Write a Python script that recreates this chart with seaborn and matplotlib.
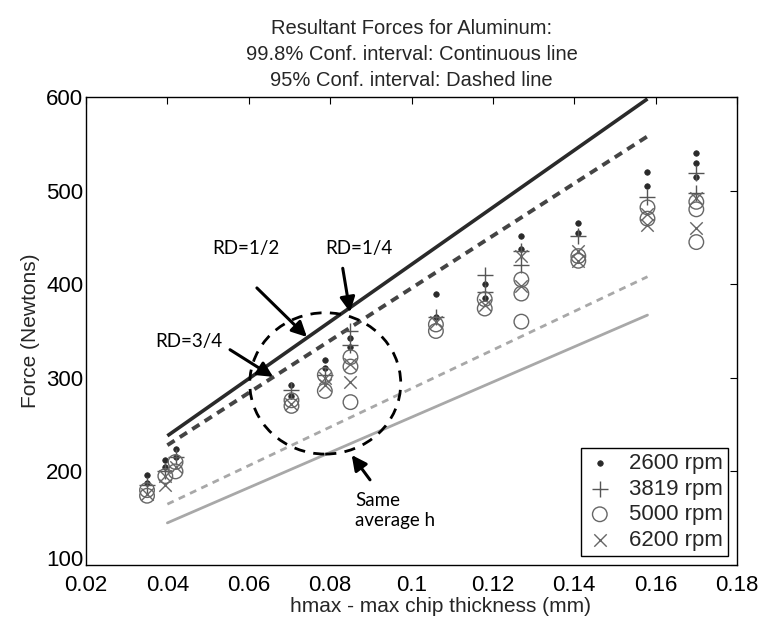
import matplotlib
matplotlib.use("Agg")
import matplotlib.pyplot as plt
import matplotlib.transforms as mtransforms
import seaborn as sns
import pandas as pd
from matplotlib.patches import Ellipse

# ---- data ----
x_2600 = [0.035, 0.035, 0.0395, 0.0395, 0.042, 0.042, 0.0705, 0.0705, 0.0787, 0.0787,
          0.085, 0.085, 0.106, 0.106, 0.118, 0.118, 0.127, 0.127, 0.141, 0.141,
          0.158, 0.158, 0.170, 0.170, 0.170]
y_2600 = [188, 196, 205, 212, 215, 224, 281, 292, 310, 319,
          333, 342, 365, 390, 385, 400, 438, 452, 455, 465,
          505, 520, 515, 530, 540]

x_3819 = [0.035, 0.0395, 0.042, 0.0705, 0.0787, 0.085, 0.085, 0.106, 0.118, 0.118,
          0.127, 0.127, 0.141, 0.158, 0.170, 0.170]
y_3819 = [185, 200, 215, 287, 303, 335, 350, 365, 392, 410,
          420, 435, 452, 493, 497, 519]

x_5000 = [0.035, 0.035, 0.0395, 0.042, 0.042, 0.0705, 0.0705, 0.0787, 0.0787, 0.085,
          0.085, 0.085, 0.106, 0.106, 0.118, 0.118, 0.127, 0.127, 0.127, 0.141,
          0.141, 0.158, 0.158, 0.170, 0.170, 0.170]
y_5000 = [174, 180, 195, 200, 210, 270, 276, 286, 303, 274,
          312, 322, 350, 357, 374, 384, 360, 390, 405, 425,
          430, 470, 482, 445, 480, 488]

x_6200 = [0.035, 0.0395, 0.0395, 0.042, 0.0705, 0.0787, 0.0787, 0.085, 0.085, 0.106,
          0.118, 0.127, 0.127, 0.141, 0.141, 0.158, 0.158, 0.170, 0.170]
y_6200 = [176, 185, 195, 205, 272, 292, 300, 296, 315, 360,
          378, 398, 430, 425, 435, 463, 475, 460, 492]

fit_x = [0.04, 0.158]
upper_998 = [238, 598]
upper_95 = [228, 558]
lower_95 = [165, 408]
lower_998 = [145, 367]

x_ticks = [0.02, 0.04, 0.06, 0.08, 0.1, 0.12, 0.14, 0.16, 0.18]
x_tick_labels = ["0.02", "0.04", "0.06", "0.08", "0.1", "0.12", "0.14", "0.16", "0.18"]
y_ticks = [100, 200, 300, 400, 500, 600]

# ---- style ----
sns.set_style("white")
plt.rcParams["font.family"] = ["Liberation Sans", "DejaVu Sans"]

fig = plt.figure(figsize=(7.62, 6.22), dpi=100)
ax = fig.add_axes([86 / 762, 1 - 565 / 622, (737 - 86) / 762, (565 - 97) / 622])

dark = "#2a2a2a"
light = "#a8a8a8"

# fitted confidence lines
sns.lineplot(x=fit_x, y=upper_998, ax=ax, color=dark, lw=2.6, solid_capstyle="butt")
sns.lineplot(x=fit_x, y=upper_95, ax=ax, color="#444444", lw=2.8,
             linestyle=(0, (2.2, 1.6)))
sns.lineplot(x=fit_x, y=lower_95, ax=ax, color=light, lw=2.0, linestyle=(0, (2.5, 2.0)))
sns.lineplot(x=fit_x, y=lower_998, ax=ax, color=light, lw=2.0)

# measured points
sns.scatterplot(x=x_2600, y=y_2600, ax=ax, marker="o", s=16, color=dark,
                edgecolor=dark, linewidth=0.5, label="2600 rpm", zorder=5)
sns.scatterplot(x=x_3819, y=y_3819, ax=ax, marker="+", s=130, color="#555555",
                linewidth=1.0, label="3819 rpm", zorder=5)
sns.scatterplot(x=x_5000, y=y_5000, ax=ax, marker="o", s=110, facecolor="none",
                edgecolor="#666666", linewidth=1.0, label="5000 rpm", zorder=5)
sns.scatterplot(x=x_6200, y=y_6200, ax=ax, marker="x", s=80, color="#666666",
                linewidth=1.0, label="6200 rpm", zorder=5)

# annotation ellipse and arrows
ax.add_patch(Ellipse((0.0788, 294), 0.0371, 151, fill=False, ec="black", lw=2.0,
                     ls=(0, (4, 3)), zorder=6))
afont = dict(family=["Lato", "DejaVu Sans"], fontsize=13.5, color="black")
aprops = dict(arrowstyle="-|>,head_length=0.9,head_width=0.45", color="black", lw=2.2,
              shrinkA=0, shrinkB=0)
ax.annotate("", xy=(0.0743, 343.6), xytext=(0.062, 396), arrowprops=aprops, zorder=7)
ax.annotate("", xy=(0.0849, 370), xytext=(0.0831, 417), arrowprops=aprops, zorder=7)
ax.annotate("", xy=(0.066, 301), xytext=(0.0554, 330), arrowprops=aprops, zorder=7)
ax.annotate("", xy=(0.0853, 217.5), xytext=(0.0898, 191), arrowprops=aprops, zorder=7)
ax.text(0.0593, 438, "RD=1/2", ha="center", va="center", **afont)
ax.text(0.0871, 438, "RD=1/4", ha="center", va="center", **afont)
ax.text(0.0453, 339, "RD=3/4", ha="center", va="center", **afont)
ax.text(0.0862, 178, "Same\naverage h", ha="left", va="top", linespacing=1.2, **afont)

# axes
ax.set_xlim(0.02, 0.18)
ax.set_ylim(100, 600)
ax.set_xticks(x_ticks)
ax.set_xticklabels(x_tick_labels)
ax.set_yticks(y_ticks)
ax.tick_params(direction="in", top=True, right=True, length=5, width=0.8,
               labelsize=16, colors="black")
ax.tick_params(axis="x", pad=7)
ax.tick_params(axis="y", pad=2)
for sp in ax.spines.values():
    sp.set_visible(True)
    sp.set_color("black")
    sp.set_linewidth(1.0)

# raise the corner "100" label a little so it clears "0.02"
fig.canvas.draw()
lab100 = ax.get_yticklabels()[0]
lab100.set_transform(lab100.get_transform() +
                     mtransforms.ScaledTranslation(0, 5 / 72, fig.dpi_scale_trans))

ax.set_xlabel("hmax - max chip thickness (mm)", fontsize=15)
ax.xaxis.set_label_coords(0.544, -0.068)
ax.set_ylabel("Force (Newtons)", fontsize=15, labelpad=4)
ax.set_title("Resultant Forces for Aluminum:\n99.8% Conf. interval: Continuous line\n"
             "95% Conf. interval: Dashed line", fontsize=14.5, linespacing=1.45, pad=8)

leg = ax.legend(loc="lower right", fontsize=16, frameon=True, fancybox=False,
                edgecolor="black", framealpha=1, borderpad=0.25, labelspacing=0.2,
                handlelength=1.2, handletextpad=0.7, borderaxespad=0.4)
leg.get_frame().set_linewidth(1.0)

fig.savefig("out.png", dpi=100)
